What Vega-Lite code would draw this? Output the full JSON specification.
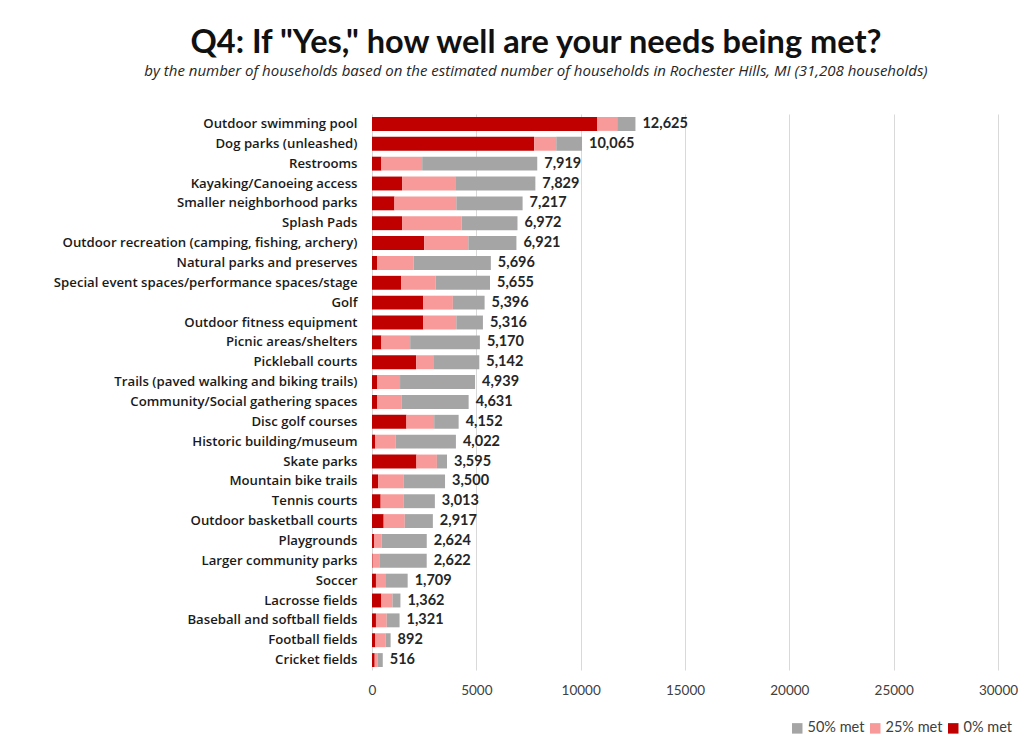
{
  "$schema": "https://vega.github.io/schema/vega-lite/v6.json",
  "width": 626,
  "height": 556,
  "autosize": {"type": "none"},
  "padding": {"left": 372, "top": 114, "right": 32, "bottom": 70},
  "background": "white",
  "title": {
    "text": "Q4: If \"Yes,\" how well are your needs being met?",
    "subtitle": "by the number of households based on the estimated number of households in Rochester Hills, MI (31,208 households)",
    "anchor": "middle",
    "frame": "group",
    "dx": -149,
    "font": "Lato",
    "fontSize": 32.5,
    "fontWeight": "bold",
    "color": "#111111",
    "subtitleFont": "Open Sans",
    "subtitleFontSize": 15,
    "subtitleFontStyle": "italic",
    "subtitleColor": "#262626",
    "subtitlePadding": 5,
    "offset": 35
  },
  "config": {
    "view": {"stroke": null},
    "font": "Lato"
  },
  "data": {
    "values": [
      {"item": "Outdoor swimming pool", "0% met": 10800, "25% met": 950, "50% met": 875, "total": 12625},
      {"item": "Dog parks (unleashed)", "0% met": 7770, "25% met": 1060, "50% met": 1235, "total": 10065},
      {"item": "Restrooms", "0% met": 450, "25% met": 1955, "50% met": 5514, "total": 7919},
      {"item": "Kayaking/Canoeing access", "0% met": 1440, "25% met": 2550, "50% met": 3839, "total": 7829},
      {"item": "Smaller neighborhood parks", "0% met": 1075, "25% met": 2965, "50% met": 3177, "total": 7217},
      {"item": "Splash Pads", "0% met": 1440, "25% met": 2855, "50% met": 2677, "total": 6972},
      {"item": "Outdoor recreation (camping, fishing, archery)", "0% met": 2500, "25% met": 2115, "50% met": 2306, "total": 6921},
      {"item": "Natural parks and preserves", "0% met": 255, "25% met": 1735, "50% met": 3706, "total": 5696},
      {"item": "Special event spaces/performance spaces/stage", "0% met": 1395, "25% met": 1650, "50% met": 2610, "total": 5655},
      {"item": "Golf", "0% met": 2450, "25% met": 1425, "50% met": 1521, "total": 5396},
      {"item": "Outdoor fitness equipment", "0% met": 2450, "25% met": 1590, "50% met": 1276, "total": 5316},
      {"item": "Picnic areas/shelters", "0% met": 450, "25% met": 1380, "50% met": 3340, "total": 5170},
      {"item": "Pickleball courts", "0% met": 2115, "25% met": 820, "50% met": 2207, "total": 5142},
      {"item": "Trails (paved walking and biking trails)", "0% met": 240, "25% met": 1105, "50% met": 3594, "total": 4939},
      {"item": "Community/Social gathering spaces", "0% met": 240, "25% met": 1170, "50% met": 3221, "total": 4631},
      {"item": "Disc golf courses", "0% met": 1650, "25% met": 1330, "50% met": 1172, "total": 4152},
      {"item": "Historic building/museum", "0% met": 145, "25% met": 995, "50% met": 2882, "total": 4022},
      {"item": "Skate parks", "0% met": 2130, "25% met": 980, "50% met": 485, "total": 3595},
      {"item": "Mountain bike trails", "0% met": 290, "25% met": 1215, "50% met": 1995, "total": 3500},
      {"item": "Tennis courts", "0% met": 415, "25% met": 1090, "50% met": 1508, "total": 3013},
      {"item": "Outdoor basketball courts", "0% met": 560, "25% met": 1010, "50% met": 1347, "total": 2917},
      {"item": "Playgrounds", "0% met": 95, "25% met": 370, "50% met": 2159, "total": 2624},
      {"item": "Larger community parks", "0% met": 30, "25% met": 320, "50% met": 2272, "total": 2622},
      {"item": "Soccer", "0% met": 190, "25% met": 480, "50% met": 1039, "total": 1709},
      {"item": "Lacrosse fields", "0% met": 450, "25% met": 530, "50% met": 382, "total": 1362},
      {"item": "Baseball and softball fields", "0% met": 190, "25% met": 515, "50% met": 616, "total": 1321},
      {"item": "Football fields", "0% met": 145, "25% met": 510, "50% met": 237, "total": 892},
      {"item": "Cricket fields", "0% met": 130, "25% met": 130, "50% met": 256, "total": 516}
    ]
  },
  "encoding": {
    "y": {
      "field": "item",
      "type": "nominal",
      "sort": null,
      "title": null,
      "scale": {"paddingInner": 0.3, "paddingOuter": 0.15},
      "axis": {
        "domain": false,
        "ticks": false,
        "labelPadding": 15,
        "labelFont": "Open Sans",
        "labelFontSize": 13.2,
        "labelFontWeight": 600,
        "labelColor": "#1a1a1a",
        "labelLimit": 400
      }
    }
  },
  "layer": [
    {
      "transform": [{"fold": ["0% met", "25% met", "50% met"], "as": ["level", "value"]}],
      "mark": {"type": "bar"},
      "encoding": {
        "x": {
          "field": "value",
          "type": "quantitative",
          "stack": "zero",
          "title": null,
          "scale": {"domain": [0, 30000], "nice": false},
          "axis": {
            "values": [0, 5000, 10000, 15000, 20000, 25000, 30000],
            "format": "d",
            "domain": false,
            "ticks": false,
            "grid": true,
            "gridColor": "#d9d9d9",
            "gridWidth": 1,
            "labelFlush": false,
            "labelPadding": 13,
            "labelFont": "Lato",
            "labelFontSize": 13.5,
            "labelColor": "#404040"
          }
        },
        "color": {
          "field": "level",
          "type": "nominal",
          "scale": {
            "domain": ["50% met", "25% met", "0% met"],
            "range": ["#a5a5a5", "#f89a9a", "#c00000"]
          },
          "legend": {
            "title": null,
            "orient": "none",
            "direction": "horizontal",
            "legendX": 418,
            "legendY": 607,
            "symbolType": "square",
            "symbolSize": 110,
            "symbolStrokeWidth": 0,
            "labelFont": "Lato",
            "labelFontSize": 14.5,
            "labelColor": "#404040",
            "columnPadding": 3,
            "labelOffset": 3
          }
        },
        "order": {"field": "level", "sort": "ascending"}
      }
    },
    {
      "mark": {"type": "text", "align": "left", "baseline": "middle", "dx": 7, "font": "Lato", "fontSize": 14.5, "fontWeight": "bold", "color": "#262626"},
      "encoding": {
        "x": {"field": "total", "type": "quantitative"},
        "text": {"field": "total", "type": "quantitative", "format": ","}
      }
    }
  ]
}
